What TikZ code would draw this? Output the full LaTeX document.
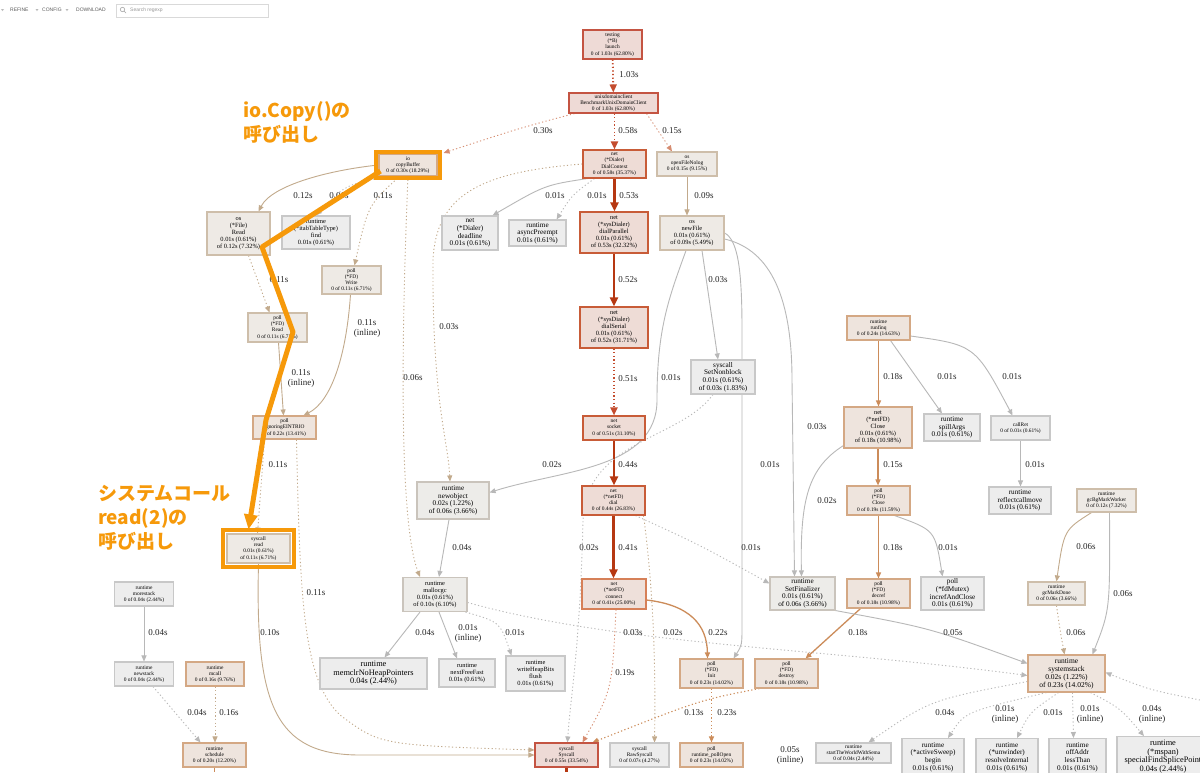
\documentclass[tikz,border=0pt]{standalone}
\usepackage{fontspec}
\setmainfont{Liberation Serif}
\newfontfamily\jpfont{Noto Sans CJK JP}
\newfontfamily\uifont{Liberation Sans}
\usetikzlibrary{arrows.meta}
\pgfdeclarelayer{back}
\pgfdeclarelayer{bg}
\pgfsetlayers{back,bg,main}
\definecolor{nRB}{RGB}{196,84,66}
\definecolor{nRF}{RGB}{238,218,214}
\definecolor{nOB}{RGB}{200,92,56}
\definecolor{nOF}{RGB}{238,220,214}
\definecolor{nCB}{RGB}{214,128,88}
\definecolor{nCF}{RGB}{238,224,218}
\definecolor{nTB}{RGB}{212,168,132}
\definecolor{nTF}{RGB}{238,228,221}
\definecolor{nLB}{RGB}{206,190,170}
\definecolor{nLF}{RGB}{238,234,229}
\definecolor{nWB}{RGB}{202,196,188}
\definecolor{nWF}{RGB}{237,236,233}
\definecolor{nGB}{RGB}{200,200,200}
\definecolor{nGF}{RGB}{237,237,237}
\definecolor{cR}{RGB}{182,56,18}
\definecolor{cRD}{RGB}{196,76,46}
\definecolor{cRL}{RGB}{214,140,112}
\definecolor{cO}{RGB}{204,140,90}
\definecolor{cT}{RGB}{194,170,140}
\definecolor{cG}{RGB}{184,184,184}
\definecolor{orng}{RGB}{246,153,10}
\definecolor{tb}{RGB}{90,90,90}
\tikzset{
 nb/.style={draw, rectangle, align=center, inner sep=0pt, line width=1.1pt, text=black},
 nR/.style={nb, draw=nRB, fill=nRF},
 nO/.style={nb, draw=nOB, fill=nOF},
 nC/.style={nb, draw=nCB, fill=nCF},
 nT/.style={nb, draw=nTB, fill=nTF},
 nL/.style={nb, draw=nLB, fill=nLF},
 nW/.style={nb, draw=nWB, fill=nWF},
 nG/.style={nb, draw=nGB, fill=nGF},
 fA/.style={font=\fontsize{5.4}{6.2}\selectfont},
 fB/.style={font=\fontsize{6.4}{7}\selectfont},
 fC/.style={font=\fontsize{7.2}{7.6}\selectfont},
 fS/.style={font=\fontsize{7.5}{8}\selectfont},
 fD/.style={font=\fontsize{8.3}{8.6}\selectfont},
 lbl/.style={font=\fontsize{9}{10}\selectfont, text=black!85, align=center, inner sep=0pt},
 eb/.style={-{Triangle[length=6pt,width=5pt]}, line width=0.9pt},
 dt/.style={dash pattern=on 1.2pt off 2.4pt},
 eRT/.style={draw=cR, line width=2.4pt, -{Triangle[length=9pt,width=8pt]}},
 eRD/.style={draw=cRD, line width=1.8pt, dt, -{Triangle[length=8pt,width=7pt]}},
 eRL/.style={eb, draw=cRL, dt},
 eO/.style={eb, draw=cO, line width=1.3pt},
 eOD/.style={eb, draw=cO, dt, line width=1.1pt},
 eT/.style={eb, draw=cT},
 eTD/.style={eb, draw=cT, dt},
 eG/.style={eb, draw=cG},
 eGD/.style={eb, draw=cG, dt},
 tbt/.style={font=\uifont\fontsize{5}{5}\selectfont, text=tb, inner sep=0pt, anchor=west},
 ann/.style={font=\jpfont\bfseries\fontsize{19}{24}\selectfont, text=orng, align=left, inner sep=0pt, anchor=north west},
}
\begin{document}
\begin{tikzpicture}[x=1pt,y=-1pt]
\clip (0,0) rectangle (1200,772);
\useasboundingbox (0,0) rectangle (1200,772);
\begin{pgfonlayer}{back}
\fill[white] (0,0) rectangle (1200,772);
\end{pgfonlayer}

% toolbar
\fill[gray!55] (1,9) -- (4,9) -- (2.5,11) -- cycle;
\node[tbt] (tRefine) at (10,10) {REFINE};
\fill[gray!55] (35.5,9) -- (38.5,9) -- (37,11) -- cycle;
\node[tbt] (tConfig) at (42,10) {CONFIG};
\fill[gray!55] (65.5,9) -- (68.5,9) -- (67,11) -- cycle;
\node[tbt] (tDown) at (76,10) {DOWNLOAD};
\draw[gray!30, fill=white, line width=0.6pt] (116,4) rectangle (268,17);
\draw[gray!70, line width=0.6pt] (122.5,9.5) circle (2.2);
\draw[gray!70, line width=0.7pt] (124,11) -- (126,13);
\node[tbt, text=gray!80] (tSearch) at (130,10.5) {Search regexp};

% nodes
\node[nR,fA,minimum width=59pt,minimum height=29pt] (launch) at (612.5,44.5) {testing\\(*B)\\launch\\0 of 1.03s (62.80\%)};
\node[nR,fA,minimum width=89pt,minimum height=20pt] (bench) at (613.5,103) {unixdomainclient\\BenchmarkUnixDomainClient\\0 of 1.03s (62.80\%)};
\node[nT,fA,minimum width=58pt,minimum height=21pt] (copybuf) at (408,165) {io\\copyBuffer\\0 of 0.30s (18.29\%)};
\node[nO,fA,minimum width=63pt,minimum height=28pt] (dialctx) at (614.5,164) {net\\(*Dialer)\\DialContext\\0 of 0.58s (35.37\%)};
\node[nL,fA,minimum width=60pt,minimum height=24pt] (openfile) at (687,164) {os\\openFileNolog\\0 of 0.15s (9.15\%)};
\node[nL,fB,minimum width=63pt,minimum height=43pt] (osread) at (238.5,233.5) {os\\(*File)\\Read\\0.01s (0.61\%)\\of 0.12s (7.32\%)};
\node[nG,fB,minimum width=68pt,minimum height=33pt] (find) at (316,232.5) {runtime\\(*itabTableType)\\find\\0.01s (0.61\%)};
\node[nL,fA,minimum width=59pt,minimum height=28pt] (pwrite) at (351.5,280) {poll\\(*FD)\\Write\\0 of 0.11s (6.71\%)};
\node[nG,fC,minimum width=56pt,minimum height=34pt] (deadline) at (470,233) {net\\(*Dialer)\\deadline\\0.01s (0.61\%)};
\node[nG,fC,minimum width=57pt,minimum height=26pt] (async) at (537.5,233) {runtime\\asyncPreempt\\0.01s (0.61\%)};
\node[nO,fB,minimum width=68pt,minimum height=41pt] (dialpar) at (614,232.5) {net\\(*sysDialer)\\dialParallel\\0.01s (0.61\%)\\of 0.53s (32.32\%)};
\node[nL,fB,minimum width=64pt,minimum height=34pt] (newfile) at (692,233) {os\\newFile\\0.01s (0.61\%)\\of 0.09s (5.49\%)};
\node[nL,fA,minimum width=59pt,minimum height=29pt] (pread) at (277.5,327.5) {poll\\(*FD)\\Read\\0 of 0.11s (6.71\%)};
\node[nO,fB,minimum width=68pt,minimum height=41pt] (dialser) at (614,327.5) {net\\(*sysDialer)\\dialSerial\\0.01s (0.61\%)\\of 0.52s (31.71\%)};
\node[nG,fC,minimum width=64pt,minimum height=34pt] (setnb) at (723,377) {syscall\\SetNonblock\\0.01s (0.61\%)\\of 0.03s (1.83\%)};
\node[nT,fA,minimum width=63pt,minimum height=23pt] (ignoring) at (284.5,427.5) {poll\\ignoringEINTRIO\\0 of 0.22s (13.41\%)};
\node[nO,fA,minimum width=62pt,minimum height=24pt] (socket) at (614,428) {net\\socket\\0 of 0.51s (31.10\%)};
\node[nT,fA,minimum width=63pt,minimum height=24pt] (runfinq) at (878.5,328) {runtime\\runfinq\\0 of 0.24s (14.63\%)};
\node[nT,fB,minimum width=68pt,minimum height=41pt] (netclose) at (878,427.5) {net\\(*netFD)\\Close\\0.01s (0.61\%)\\of 0.18s (10.98\%)};
\node[nG,fC,minimum width=56pt,minimum height=27pt] (spill) at (952,427.5) {runtime\\spillArgs\\0.01s (0.61\%)};
\node[nG,fA,minimum width=59pt,minimum height=24pt] (callret) at (1020.5,428) {callRet\\0 of 0.01s (0.61\%)};
\node[nT,fA,minimum width=63pt,minimum height=29pt] (pclose) at (878.5,500.5) {poll\\(*FD)\\Close\\0 of 0.19s (11.59\%)};
\node[nG,fC,minimum width=62pt,minimum height=27pt] (reflect) at (1020,500.5) {runtime\\reflectcallmove\\0.01s (0.61\%)};
\node[nL,fA,minimum width=59pt,minimum height=23pt] (gcbg) at (1106.5,500.5) {runtime\\gcBgMarkWorker\\0 of 0.12s (7.32\%)};
\node[nW,fC,minimum width=72pt,minimum height=37pt] (newobj) at (453,500.5) {runtime\\newobject\\0.02s (1.22\%)\\of 0.06s (3.66\%)};
\node[nO,fA,minimum width=63pt,minimum height=29pt] (dial) at (613.5,500.5) {net\\(*netFD)\\dial\\0 of 0.44s (26.83\%)};
\node[nL,fA,minimum width=63pt,minimum height=29pt] (sysread) at (258.5,548.5) {syscall\\read\\0.01s (0.61\%)\\of 0.11s (6.71\%)};
\node[nW,fC,minimum width=65pt,minimum height=33pt] (setfin) at (802.5,593.5) {runtime\\SetFinalizer\\0.01s (0.61\%)\\of 0.06s (3.66\%)};
\node[nT,fA,minimum width=63pt,minimum height=29pt] (decref) at (878.5,593.5) {poll\\(*FD)\\decref\\0 of 0.18s (10.98\%)};
\node[nG,fC,minimum width=63pt,minimum height=33pt] (incref) at (952.5,593.5) {poll\\(*fdMutex)\\increfAndClose\\0.01s (0.61\%)};
\node[nL,fA,minimum width=57pt,minimum height=23pt] (gcmark) at (1056.5,593.5) {runtime\\gcMarkDone\\0 of 0.06s (3.66\%)};
\node[nW,fB,minimum width=64pt,minimum height=34pt] (mallocgc) at (435,594.5) {runtime\\mallocgc\\0.01s (0.61\%)\\of 0.10s (6.10\%)};
\node[nC,fA,minimum width=64pt,minimum height=30pt] (connect) at (614,594) {net\\(*netFD)\\connect\\0 of 0.41s (25.00\%)};
\node[nG,fA,minimum width=59pt,minimum height=24pt] (morestack) at (144,594) {runtime\\morestack\\0 of 0.04s (2.44\%)};
\node[nG,fA,minimum width=59pt,minimum height=24pt] (newstack) at (144,674) {runtime\\newstack\\0 of 0.04s (2.44\%)};
\node[nT,fA,minimum width=58pt,minimum height=24pt] (mcall) at (215,674) {runtime\\mcall\\0 of 0.16s (9.76\%)};
\node[nG,fD,minimum width=107pt,minimum height=31pt] (memclr) at (373.5,673.5) {runtime\\memclrNoHeapPointers\\0.04s (2.44\%)};
\node[nG,fB,minimum width=56pt,minimum height=28pt] (nextff) at (467,673) {runtime\\nextFreeFast\\0.01s (0.61\%)};
\node[nG,fB,minimum width=59pt,minimum height=35pt] (whb) at (535.5,673.5) {runtime\\writeHeapBits\\flush\\0.01s (0.61\%)};
\node[nT,fA,minimum width=63pt,minimum height=29pt] (init) at (711.5,673.5) {poll\\(*FD)\\Init\\0 of 0.23s (14.02\%)};
\node[nT,fA,minimum width=63pt,minimum height=29pt] (destroy) at (786.5,673.5) {poll\\(*FD)\\destroy\\0 of 0.18s (10.98\%)};
\node[nT,fS,minimum width=77pt,minimum height=37pt] (sysstack) at (1066.5,673.5) {runtime\\systemstack\\0.02s (1.22\%)\\of 0.23s (14.02\%)};
\node[nT,fA,minimum width=63pt,minimum height=24pt] (schedule) at (214.5,755) {runtime\\schedule\\0 of 0.20s (12.20\%)};
\node[nR,fA,minimum width=63pt,minimum height=24pt] (syscall) at (566.5,755) {syscall\\Syscall\\0 of 0.55s (33.54\%)};
\node[nG,fA,minimum width=59pt,minimum height=24pt] (rawsys) at (639.5,755) {syscall\\RawSyscall\\0 of 0.07s (4.27\%)};
\node[nT,fA,minimum width=63pt,minimum height=24pt] (pollopen) at (711.5,755) {poll\\runtime\_pollOpen\\0 of 0.23s (14.02\%)};
\node[nG,fA,minimum width=75pt,minimum height=20pt] (sttw) at (853.5,753) {runtime\\startTheWorldWithSema\\0 of 0.04s (2.44\%)};
\node[nG,fC,minimum width=62pt,minimum height=37pt,anchor=north] (sweep) at (933,738) {runtime\\(*activeSweep)\\begin\\0.01s (0.61\%)};
\node[nG,fC,minimum width=62pt,minimum height=37pt,anchor=north] (unwind) at (1007,738) {runtime\\(*unwinder)\\resolveInternal\\0.01s (0.61\%)};
\node[nG,fC,minimum width=57pt,minimum height=37pt,anchor=north] (offaddr) at (1077.5,738) {runtime\\offAddr\\lessThan\\0.01s (0.61\%)};
\node[nG,fD,minimum width=92pt,minimum height=40pt,anchor=north] (mspan) at (1163,736) {runtime\\(*mspan)\\specialFindSplicePoint\\0.04s (2.44\%)};

\coordinate (rin) at (1200,700);
\coordinate (sb1) at (566.5,772);
\coordinate (sb2) at (214.5,772);

% edges
\begin{pgfonlayer}{bg}
\draw[eRD] (launch) -- (bench);
\draw[eRL] ([xshift=6pt]bench.south west) .. controls (520,128) .. ([xshift=6pt,yshift=1pt]copybuf.north east);
\draw[eRD] (bench.south -| dialctx.north) -- (dialctx.north);
\draw[eRL] ([xshift=-12pt]bench.south east) -- ([xshift=-15pt]openfile.north);
\draw[eT] (copybuf.west) .. controls (330,170) and (272,185) .. ([xshift=20pt]osread.north);
\draw[eGD] ([xshift=-20pt]copybuf.south) .. controls (345,185) .. (find.north);
\draw[eTD] ([xshift=-8pt]copybuf.south) .. controls (368,205) .. ([xshift=3pt]pwrite.north);
\draw[eTD] (copybuf.south) .. controls (402,320) and (398,520) .. ([xshift=-15pt]mallocgc.north);
\draw[eTD] ([xshift=10pt]osread.south) -- ([xshift=-8pt]pread.north);
\draw[eT] ([xshift=1pt]pread.south) -- ([xshift=-1pt]ignoring.north);
\draw[eT] ([xshift=-1pt]pwrite.south) .. controls (346,360) and (330,402) .. ([xshift=19pt]ignoring.north);
\draw[eTD] (dialctx.west) .. controls (480,172) and (436,195) .. (433,260) .. controls (432,400) and (448,440) .. ([xshift=-3pt]newobj.north);
\draw[eG] ([xshift=5pt]dialctx.south west) .. controls (545,185) .. ([xshift=-6pt]deadline.north east);
\draw[eGD] ([xshift=12pt]dialctx.south west) .. controls (572,195) .. ([xshift=-10pt]async.north east);
\draw[eRT] (dialctx.south) -- (dialctx.south |- dialpar.north);
\draw[eT] (openfile.south) -- (openfile.south |- newfile.north);
\draw[eG] ([xshift=10pt]newfile.south) -- ([xshift=-5pt]setnb.north);
\draw[eG] ([xshift=-6pt]newfile.south) .. controls (668,300) and (657,330) .. (657,400) .. controls (657,470) and (560,470) .. ([yshift=8pt]newobj.east);
\draw[eG] (newfile.east) .. controls (738,240) and (742,270) .. (742,330) -- (742,625) .. controls (742,645) .. ([xshift=-10pt]init.north east);
\draw[eG] ([yshift=-6pt]newfile.east) .. controls (772,250) and (792,300) .. (792,380) -- ([xshift=-8pt]setfin.north);
\draw[eRT] (dialpar.south) -- (dialpar.south |- dialser.north);
\draw[eRD] (dialser.south) -- (dialser.south |- socket.north);
\draw[eRT] (socket.south) -- (socket.south |- dial.north);
\draw[eRT] (dial.south) -- (dial.south |- connect.north);
\draw[eGD] ([xshift=-10pt]setnb.south) .. controls (680,440) and (586,440) .. (583,520) .. controls (580,650) and (570,700) .. ([xshift=1pt]syscall.north);
\draw[eGD] ([xshift=-10pt]dial.south east) .. controls (700,545) .. ([yshift=10pt]setfin.west);
\draw[eTD] ([xshift=-2pt]dial.south east) .. controls (652,580) and (656,650) .. ([xshift=15pt]rawsys.north);
\draw[eO] ([yshift=-6pt]connect.east) .. controls (690,605) and (707,625) .. ([xshift=-4pt]init.north);
\draw[eRL] ([xshift=2pt]connect.south) .. controls (612,690) .. ([xshift=16pt]syscall.north);
\draw[eOD] (init.south) -- (init.south |- pollopen.north);
\draw[eOD] ([xshift=5pt]destroy.south west) .. controls (700,700) .. ([xshift=26pt]syscall.north);
\draw[eO] (runfinq.south) -- (runfinq.south |- netclose.north);
\draw[eG] ([xshift=12pt]runfinq.south) -- ([xshift=-10pt]spill.north);
\draw[eG] ([yshift=-8pt]runfinq.east) .. controls (975,345) .. ([xshift=-8pt]callret.north);
\draw[eG] (callret.south) -- (callret.south |- reflect.north);
\draw[eO] (netclose.south) -- (netclose.south |- pclose.north);
\draw[eG] ([yshift=3pt]netclose.south west) .. controls (808,468) and (800,500) .. ([xshift=-1pt]setfin.north);
\draw[eO] (pclose.south) -- (pclose.south |- decref.north);
\draw[eG] ([xshift=16pt]pclose.south) .. controls (935,530) .. ([xshift=-10pt]incref.north);
\draw[eO] ([xshift=-18pt]decref.south) -- ([xshift=-13pt]destroy.north east);
\draw[eT] ([xshift=-15pt]gcbg.south) .. controls (1064,530) .. (gcmark.north);
\draw[eG] ([xshift=3pt]gcbg.south) .. controls (1110,610) .. ([xshift=26pt]sysstack.north);
\draw[eTD] (gcmark.south) .. controls (1060,630) .. ([xshift=-2pt]sysstack.north);
\draw[eG] (setfin.south east) .. controls (930,628) .. ([yshift=10pt]sysstack.west);
\draw[eGD] ([yshift=-8pt]mallocgc.east) .. controls (620,645) and (820,648) .. ([yshift=-2pt]sysstack.west);
\draw[eGD] ([xshift=-2pt]mallocgc.south east) .. controls (500,622) .. ([xshift=-24pt]whb.north);
\draw[eG] ([xshift=-4pt]newobj.south) -- ([xshift=4pt]mallocgc.north);
\draw[eG] ([xshift=-15pt]mallocgc.south) -- ([xshift=11pt]memclr.north);
\draw[eG] ([xshift=4pt]mallocgc.south) .. controls (447,632) .. ([xshift=-10pt]nextff.north);
\draw[eT] (sysread.south) .. controls (255,705) and (275,755) .. (360,755) -- (syscall.west);
\draw[eTD] ([xshift=-20pt]ignoring.south) -- ([xshift=-1pt]sysread.north);
\draw[eTD] ([xshift=12pt]ignoring.south) .. controls (300,600) and (303,680) .. (340,715) .. controls (380,745) .. ([yshift=5pt]syscall.west);
\draw[eG] (morestack.south) -- (morestack.south |- newstack.north);
\draw[eGD] ([xshift=9pt]newstack.south) -- ([xshift=-14pt]schedule.north);
\draw[eTD] (mcall.south) -- (mcall.south |- schedule.north);
\draw[eGD] ([yshift=-8pt]sysstack.west) .. controls (930,700) .. ([xshift=15pt]sttw.north);
\draw[eGD] ([xshift=-20pt]sysstack.south) .. controls (965,712) .. ([xshift=15pt]sweep.north);
\draw[eGD] ([xshift=-8pt]sysstack.south) .. controls (1030,712) .. ([xshift=10pt]unwind.north);
\draw[eGD] ([xshift=6pt]sysstack.south) -- ([xshift=-4pt]offaddr.north);
\draw[eGD] ([xshift=24pt]sysstack.south) .. controls (1120,708) .. ([xshift=-19pt]mspan.north);
\draw[eGD] (rin) .. controls (1150,690) .. ([yshift=1pt]sysstack.east);
\draw[cR, line width=2.4pt] (syscall.south) -- (sb1);
\draw[cO, line width=1.3pt] (schedule.south) -- (sb2);
\end{pgfonlayer}

% edge labels
\node[lbl] (l01) at (629,75) {1.03s};
\node[lbl] (l02) at (543,131) {0.30s};
\node[lbl] (l03) at (628,131) {0.58s};
\node[lbl] (l04) at (672,131) {0.15s};
\node[lbl] (l05) at (303,196) {0.12s};
\node[lbl] (l06) at (339,196) {0.01s};
\node[lbl] (l07) at (383,196) {0.11s};
\node[lbl] (l08) at (555,196) {0.01s};
\node[lbl] (l09) at (597,196) {0.01s};
\node[lbl] (l10) at (629,196) {0.53s};
\node[lbl] (l11) at (704,196) {0.09s};
\node[lbl] (l12) at (279,280) {0.11s};
\node[lbl] (l13) at (628,280) {0.52s};
\node[lbl] (l14) at (718,280) {0.03s};
\node[lbl] (l15) at (367,328) {0.11s\\(inline)};
\node[lbl] (l16) at (449,327) {0.03s};
\node[lbl] (l17) at (301,378) {0.11s\\(inline)};
\node[lbl] (l18) at (413,378) {0.06s};
\node[lbl] (l19) at (628,379) {0.51s};
\node[lbl] (l20) at (671,378) {0.01s};
\node[lbl] (l21) at (893,377) {0.18s};
\node[lbl] (l22) at (947,377) {0.01s};
\node[lbl] (l23) at (1012,377) {0.01s};
\node[lbl] (l24) at (817,427) {0.03s};
\node[lbl] (l25) at (552,465) {0.02s};
\node[lbl] (l26) at (628,465) {0.44s};
\node[lbl] (l27) at (770,465) {0.01s};
\node[lbl] (l28) at (893,465) {0.15s};
\node[lbl] (l29) at (1035,465) {0.01s};
\node[lbl] (l30) at (278,465) {0.11s};
\node[lbl] (l31) at (827,501) {0.02s};
\node[lbl] (l32) at (462,548) {0.04s};
\node[lbl] (l33) at (589,548) {0.02s};
\node[lbl] (l34) at (628,548) {0.41s};
\node[lbl] (l35) at (751,548) {0.01s};
\node[lbl] (l36) at (893,548) {0.18s};
\node[lbl] (l37) at (948,548) {0.01s};
\node[lbl] (l38) at (1086,547) {0.06s};
\node[lbl] (l39) at (1123,594) {0.06s};
\node[lbl] (l40) at (316,593) {0.11s};
\node[lbl] (l41) at (270,633) {0.10s};
\node[lbl] (l42) at (158,633) {0.04s};
\node[lbl] (l43) at (425,633) {0.04s};
\node[lbl] (l44) at (468,633) {0.01s\\(inline)};
\node[lbl] (l45) at (515,633) {0.01s};
\node[lbl] (l46) at (633,633) {0.03s};
\node[lbl] (l47) at (673,633) {0.02s};
\node[lbl] (l48) at (718,633) {0.22s};
\node[lbl] (l49) at (858,633) {0.18s};
\node[lbl] (l50) at (953,633) {0.05s};
\node[lbl] (l51) at (1076,633) {0.06s};
\node[lbl] (l52) at (625,673) {0.19s};
\node[lbl] (l53) at (694,713) {0.13s};
\node[lbl] (l54) at (727,713) {0.23s};
\node[lbl] (l55) at (197,713) {0.04s};
\node[lbl] (l56) at (229,713) {0.16s};
\node[lbl] (l57) at (790,755) {0.05s\\(inline)};
\node[lbl] (l58) at (945,713) {0.04s};
\node[lbl] (l59) at (1005,714) {0.01s\\(inline)};
\node[lbl] (l60) at (1053,713) {0.01s};
\node[lbl] (l61) at (1090,714) {0.01s\\(inline)};
\node[lbl] (l62) at (1152,714) {0.04s\\(inline)};

% highlight
\draw[orng, line width=4pt] ([shift={(-2pt,2pt)}]copybuf.north west) rectangle ([shift={(2pt,-2pt)}]copybuf.south east);
\draw[orng, line width=4pt] ([shift={(-3pt,3pt)}]sysread.north west) rectangle ([shift={(3pt,-3pt)}]sysread.south east);
\coordinate (h1) at (262,247);
\coordinate (h2) at (293,332);
\coordinate (h3) at (266,420);
\coordinate (h4) at ([xshift=-10pt,yshift=4pt]sysread.north);
\draw[orng, line width=5pt, line join=round, -{Triangle[length=15pt,width=13pt]}] ([xshift=2pt,yshift=5pt]copybuf.south west) -- (h1) -- (h2) -- (h3) -- (h4);
\node[ann] (ann1) at (243,101) {io.Copy()の\\呼び出し};
\node[ann] (ann2) at (98,485) {システムコール\\read(2)の\\呼び出し};
\end{tikzpicture}
\end{document}
